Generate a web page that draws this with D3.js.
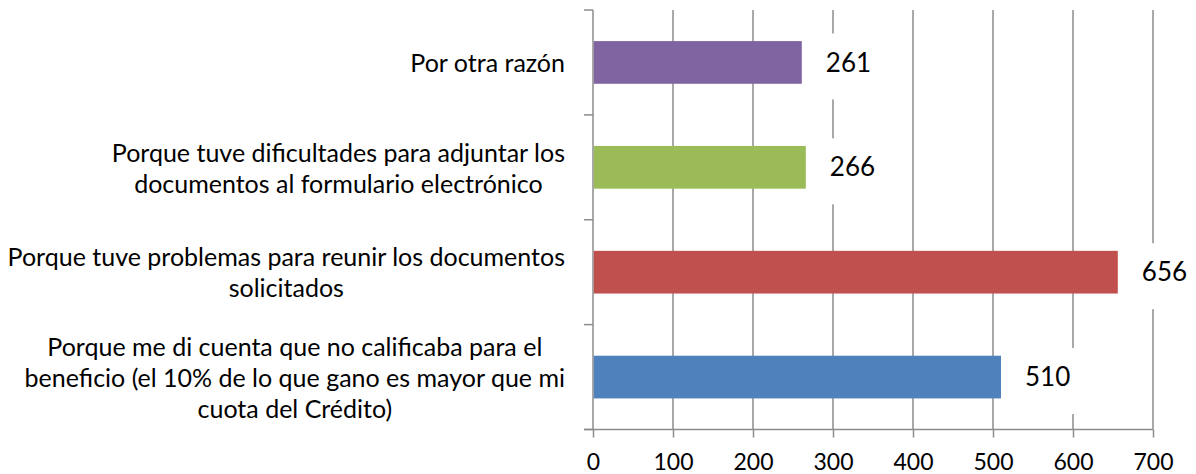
<!DOCTYPE html>
<html>
<head>
<meta charset="utf-8">
<script src="https://cdn.jsdelivr.net/npm/d3@7"></script>
<style>
  body { margin: 0; background: #fff; }
  svg { display: block; font-family: Lato, 'Open Sans', sans-serif; }
  .cat-label { font-size: 25px; fill: #000; }
  .value-label { font-size: 26px; fill: #000; }
  .tick-label { font-size: 23px; fill: #000; }
</style>
</head>
<body>
<div class="chart"></div>
<script>
const svgWidth = 1196;
const svgHeight = 474;

// categories top to bottom, already split into the lines shown
const categories = [
  ['Por otra razón'],
  ['Porque tuve dificultades para adjuntar los', 'documentos al formulario electrónico'],
  ['Porque tuve problemas para reunir los documentos', 'solicitados'],
  ['Porque me di cuenta que no calificaba para el', 'beneficio (el 10% de lo que gano es mayor que mi', 'cuota del Crédito)']
];
const values = [261, 266, 656, 510];
const colors = ['#8064A2', '#9BBB59', '#C0504D', '#4F81BD'];
const xTicks = [0, 100, 200, 300, 400, 500, 600, 700];

const plot = { left: 593, right: 1153, top: 10, bottom: 429.5 };
const gridColor = '#8c8c8c';
const lineHeight = 31;
const labelGap = 24;

const svg = d3.select('.chart')
  .append('svg')
  .attr('width', svgWidth)
  .attr('height', svgHeight);

const xScale = d3.scaleLinear()
  .domain([0, 700])
  .range([plot.left, plot.right]);

const yScale = d3.scaleBand()
  .domain(d3.range(categories.length))
  .range([plot.top, plot.bottom])
  .paddingInner(0.593)
  .paddingOuter(0.593 / 2);

const step = yScale.step();
const center = i => yScale(i) + yScale.bandwidth() / 2;

// vertical gridlines
svg.append('g')
  .selectAll('line')
  .data(xTicks.slice(1))
  .enter()
  .append('line')
  .attr('x1', d => xScale(d))
  .attr('x2', d => xScale(d))
  .attr('y1', plot.top)
  .attr('y2', plot.bottom)
  .attr('stroke', gridColor)
  .attr('stroke-width', 1.5);

// bottom axis
const bottomAxis = d3.axisBottom(xScale)
  .tickValues(xTicks)
  .tickSize(8)
  .tickSizeOuter(0)
  .tickFormat(d3.format('d'));
const xAxis = svg.append('g')
  .attr('transform', `translate(0, ${plot.bottom})`)
  .call(bottomAxis);
xAxis.select('.domain').remove();
xAxis.attr('font-size', null).attr('font-family', null);
xAxis.selectAll('line').attr('stroke', gridColor).attr('stroke-width', 1.5);
xAxis.selectAll('text')
  .attr('class', 'tick-label')
  .attr('y', 32)
  .attr('dy', '0.35em');
svg.append('line')
  .attr('x1', plot.left - 9)
  .attr('x2', plot.right)
  .attr('y1', plot.bottom)
  .attr('y2', plot.bottom)
  .attr('stroke', gridColor)
  .attr('stroke-width', 1.5);

// left axis with ticks at band boundaries
const leftAxis = svg.append('g');
leftAxis.append('line')
  .attr('x1', plot.left)
  .attr('x2', plot.left)
  .attr('y1', plot.top)
  .attr('y2', plot.bottom)
  .attr('stroke', gridColor)
  .attr('stroke-width', 1.5);
leftAxis.selectAll('.ytick')
  .data(d3.range(categories.length + 1))
  .enter()
  .append('line')
  .attr('class', 'ytick')
  .attr('x1', plot.left - 9)
  .attr('x2', plot.left)
  .attr('y1', d => plot.top + d * step)
  .attr('y2', d => plot.top + d * step)
  .attr('stroke', gridColor)
  .attr('stroke-width', 1.5);

// bars
svg.append('g')
  .selectAll('rect')
  .data(values)
  .enter()
  .append('rect')
  .attr('x', xScale(0) + 0.75)
  .attr('y', (d, i) => yScale(i))
  .attr('width', d => xScale(d) - xScale(0) - 0.75)
  .attr('height', yScale.bandwidth())
  .attr('fill', (d, i) => colors[i]);

// value labels with white boxes behind them
const valueGroups = svg.append('g')
  .selectAll('g')
  .data(values)
  .enter()
  .append('g');
const valueBoxes = valueGroups.append('rect').attr('fill', '#fff');
const valueTexts = valueGroups.append('text')
  .attr('class', 'value-label')
  .attr('x', d => xScale(d) + labelGap)
  .attr('y', (d, i) => center(i))
  .attr('dy', '0.35em')
  .text(d => d);
valueTexts.each(function(d, i) {
  const w = this.getComputedTextLength();
  d3.select(valueBoxes.nodes()[i])
    .attr('x', xScale(d) + labelGap - 9)
    .attr('y', center(i) - 29)
    .attr('width', w + 18)
    .attr('height', 66);
});

// category labels: block right-aligned, lines centred within the block
const labelRight = 565;
categories.forEach((lines, i) => {
  const g = svg.append('g');
  const texts = g.selectAll('text')
    .data(lines)
    .enter()
    .append('text')
    .attr('class', 'cat-label')
    .attr('text-anchor', 'middle')
    .attr('y', (d, j) => center(i) + (j - (lines.length - 1) / 2) * lineHeight + 1)
    .attr('dy', '0.35em')
    .text(d => d);
  const maxW = d3.max(texts.nodes(), n => n.getComputedTextLength());
  texts.attr('x', labelRight - maxW / 2);
});
</script>
</body>
</html>
